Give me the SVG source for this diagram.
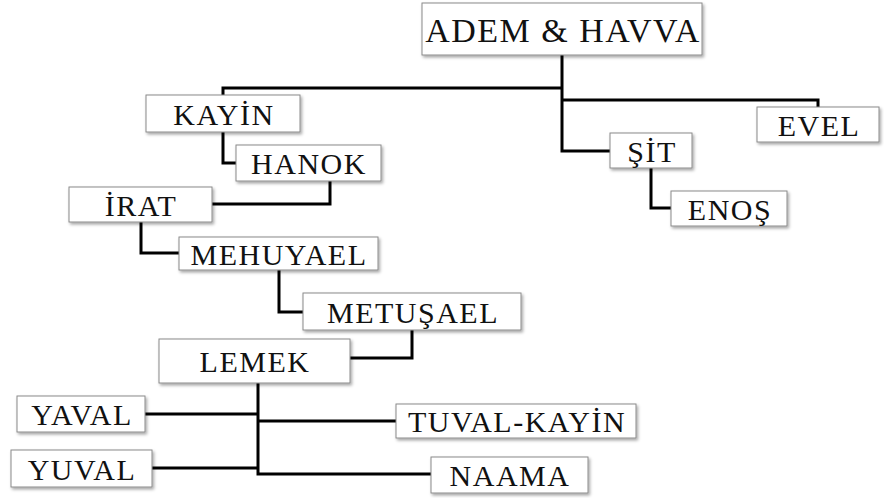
<svg xmlns="http://www.w3.org/2000/svg" width="884" height="498" viewBox="0 0 884 498">
<defs>
<filter id="sh" x="-10%" y="-20%" width="130%" height="160%">
<feDropShadow dx="1.5" dy="2" stdDeviation="1.5" flood-color="#000" flood-opacity="0.35"/>
</filter>
</defs>
<style>
.box{fill:#fff;stroke:#8a8a8a;stroke-width:1;filter:url(#sh)}
.t{font-family:"Liberation Serif","Times New Roman",serif;font-size:30px;letter-spacing:1.5px;fill:#111;text-anchor:middle;dominant-baseline:central}
.c{fill:none;stroke:#000;stroke-width:3;stroke-linejoin:miter}
</style>
<rect width="884" height="498" fill="#fff"/>
<g id="connectors">
<path class="c" d="M562 55V151H610"/>
<path class="c" d="M562 88H223V95"/>
<path class="c" d="M562 100H818V107"/>
<path class="c" d="M651 168V208H671"/>
<path class="c" d="M223 132V163H236"/>
<path class="c" d="M330 181V204H212"/>
<path class="c" d="M141 222V253H179"/>
<path class="c" d="M279 270V312H303"/>
<path class="c" d="M412 330V358H350"/>
<path class="c" d="M258 383V474H431"/>
<path class="c" d="M145 414H258"/>
<path class="c" d="M258 421H396"/>
<path class="c" d="M152 468H258"/>
</g>
<g id="adem"><rect class="box" x="422" y="3" width="280" height="52"/><text class="t" x="563" y="30" style="font-size:34px">ADEM &amp; HAVVA</text></g>
<g id="kayin"><rect class="box" x="146" y="95" width="154" height="37"/><text class="t" x="224" y="114">KAYİN</text></g>
<g id="evel"><rect class="box" x="757" y="107" width="122" height="35"/><text class="t" x="819" y="125">EVEL</text></g>
<g id="sit"><rect class="box" x="610" y="133" width="82" height="35"/><text class="t" x="652" y="151">ŞİT</text></g>
<g id="hanok"><rect class="box" x="236" y="145" width="145" height="36"/><text class="t" x="309" y="163">HANOK</text></g>
<g id="irat"><rect class="box" x="69" y="187" width="143" height="35"/><text class="t" x="141" y="205">İRAT</text></g>
<g id="enos"><rect class="box" x="671" y="191" width="116" height="35"/><text class="t" x="730" y="209">ENOŞ</text></g>
<g id="mehuyael"><rect class="box" x="179" y="237" width="199" height="33"/><text class="t" x="279" y="254">MEHUYAEL</text></g>
<g id="metusael"><rect class="box" x="303" y="293" width="218" height="37"/><text class="t" x="413" y="312">METUŞAEL</text></g>
<g id="lemek"><rect class="box" x="159" y="339" width="191" height="44"/><text class="t" x="255" y="361">LEMEK</text></g>
<g id="yaval"><rect class="box" x="17" y="396" width="128" height="36"/><text class="t" x="82" y="414">YAVAL</text></g>
<g id="tuvalkayin"><rect class="box" x="396" y="404" width="240" height="34"/><text class="t" x="517" y="421">TUVAL-KAYİN</text></g>
<g id="yuval"><rect class="box" x="11" y="450" width="141" height="37"/><text class="t" x="82" y="469">YUVAL</text></g>
<g id="naama"><rect class="box" x="431" y="457" width="157" height="36"/><text class="t" x="510" y="475">NAAMA</text></g>
</svg>
